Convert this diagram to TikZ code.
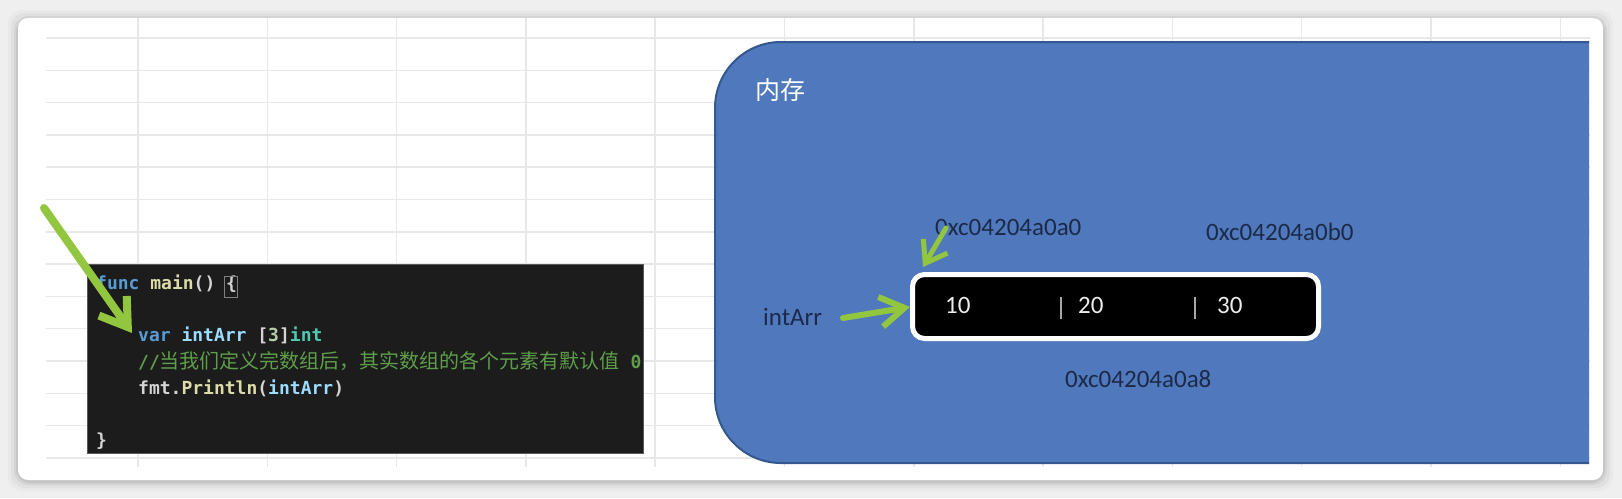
\documentclass[tikz,border=0pt]{standalone}
\usepackage{fontspec}
\setmainfont{Carlito}
\setmonofont{DejaVu Sans Mono}
\newfontfamily\cjk{Noto Sans CJK SC}
\usetikzlibrary{arrows.meta}
\definecolor{bgc}{HTML}{EFEFEF}
\definecolor{gridc}{HTML}{E8E8E8}
\definecolor{memblue}{HTML}{4F79BC}
\definecolor{memedge}{HTML}{34578F}
\definecolor{codebg}{HTML}{1C1C1C}
\definecolor{kw}{HTML}{569CD6}
\definecolor{fn}{HTML}{DCDCAA}
\definecolor{vr}{HTML}{9CDCFE}
\definecolor{typ}{HTML}{4EC9B0}
\definecolor{num}{HTML}{B5CEA8}
\definecolor{tx}{HTML}{D4D4D4}
\definecolor{cm}{HTML}{5E9E4A}
\definecolor{agreen}{HTML}{92C63E}
\definecolor{labc}{HTML}{1C2A48}
\tikzset{
  gridline/.style={draw=gridc, line width=1.5pt},
  label25/.style={inner sep=0pt, anchor=base west, font=\fontsize{25}{30}\selectfont},
  hexlab/.style={label25, text=labc},
  cell/.style={inner sep=0pt, anchor=base west, font=\fontsize{25}{30}\selectfont, text=white!93!black},
  sep/.style={inner sep=0pt, anchor=base, font=\fontsize{25}{30}\selectfont, text=white!78!black},
  codeline/.style={inner sep=0pt, anchor=base west, font=\ttfamily\bfseries\fontsize{18}{22}\selectfont, text=tx},
  garrow/.style={draw=agreen, line cap=round},
  arrbox/.style={draw=white, line width=5pt, fill=black, rounded corners=12pt, minimum width=406pt, minimum height=64pt, inner sep=0pt}
}
\begin{document}
\begin{tikzpicture}[x=1pt,y=-1pt]
\useasboundingbox (0,0) rectangle (1622,498);
\fill[bgc] (0,0) rectangle (1622,498);
% card shadow
\foreach \k/\o in {10/0.025,7/0.035,4/0.05,2/0.07}{
  \fill[black, opacity=\o, rounded corners=14pt] (18-\k,18-\k+2) rectangle (1603+\k,480+\k+1);
}
\fill[white, rounded corners=10pt] (18,18) rectangle (1603,480);
% grid
\foreach \i in {0,...,13}{
  \draw[gridline] (46,38+32.3*\i) -- (1590,38+32.3*\i);
}
\foreach \i in {0,...,11}{
  \draw[gridline] (138+129.3*\i,18) -- (138+129.3*\i,467);
}
% code box
\node[fill=codebg, draw=gray!70!black, line width=0.6pt, minimum width=556pt, minimum height=189pt, inner sep=0pt, anchor=north west] (code) at (87,264) {};
\begin{scope}
\clip (87,264) rectangle (643,453);
\node[codeline] (l1) at (96,289) {\textcolor{kw}{func} \textcolor{fn}{main}() \{};
\node[codeline] (l3) at (138,341) {\textcolor{kw}{var} \textcolor{vr}{intArr} [\textcolor{num}{3}]\textcolor{typ}{int}};
\node[codeline, text=cm] (l4) at (138,368) {//{\cjk\mdseries\fontsize{20}{22}\selectfont 当我们定义完数组后，其实数组的各个元素有默认值} 0};
\node[codeline] (l5) at (138,394) {fmt.\textcolor{fn}{Println}(\textcolor{vr}{intArr})};
\node[codeline] (l7) at (96,446) {\}};
\end{scope}
\draw[gray, line width=0.8pt] (224,276) rectangle (237,297);
% big arrow into code
\coordinate (bigtail) at (44,208);
\coordinate (bigtip) at (132,333);
\draw[garrow, line width=8pt, -{Straight Barb[length=26pt, width=34pt]}] (bigtail) -- (bigtip);
% memory region
\begin{scope}
\clip (0,0) rectangle (1589,498);
\fill[memblue, rounded corners=66pt] (715,42) rectangle (1700,463);
\draw[memedge, line width=2pt, rounded corners=66pt] (715,42) rectangle (1700,463);
\end{scope}
\node[label25, text=white] (mem) at (755,99) {\cjk\fontsize{25}{30}\selectfont 内存};
% array box
\node[arrbox] (arr) at (1115.5,306.5) {};
\node[cell] (c1) at (945,313) {10};
\node[sep] (s1) at (1061,315) {|};
\node[cell] (c2) at (1078,313) {20};
\node[sep] (s2) at (1195,315) {|};
\node[cell] (c3) at (1217,313) {30};
% labels
\node[hexlab] (intarr) at (763,325) {intArr};
\node[hexlab] (a0) at (935,235) {0xc04204a0a0};
\node[hexlab] (b0) at (1206,240) {0xc04204a0b0};
\node[hexlab] (a8) at (1065,387) {0xc04204a0a8};
% arrows
\coordinate (itail) at (843,318);
\coordinate (itip) at (910,307);
\draw[garrow, line width=6pt, -{Straight Barb[length=24pt, width=30pt]}] (itail) -- (itip);
\coordinate (ttail) at (946,228);
\coordinate (ttip) at (923,267);
\draw[garrow, line width=5pt, -{Straight Barb[length=20pt, width=28pt]}] (ttail) -- (ttip);
\end{tikzpicture}
\end{document}
